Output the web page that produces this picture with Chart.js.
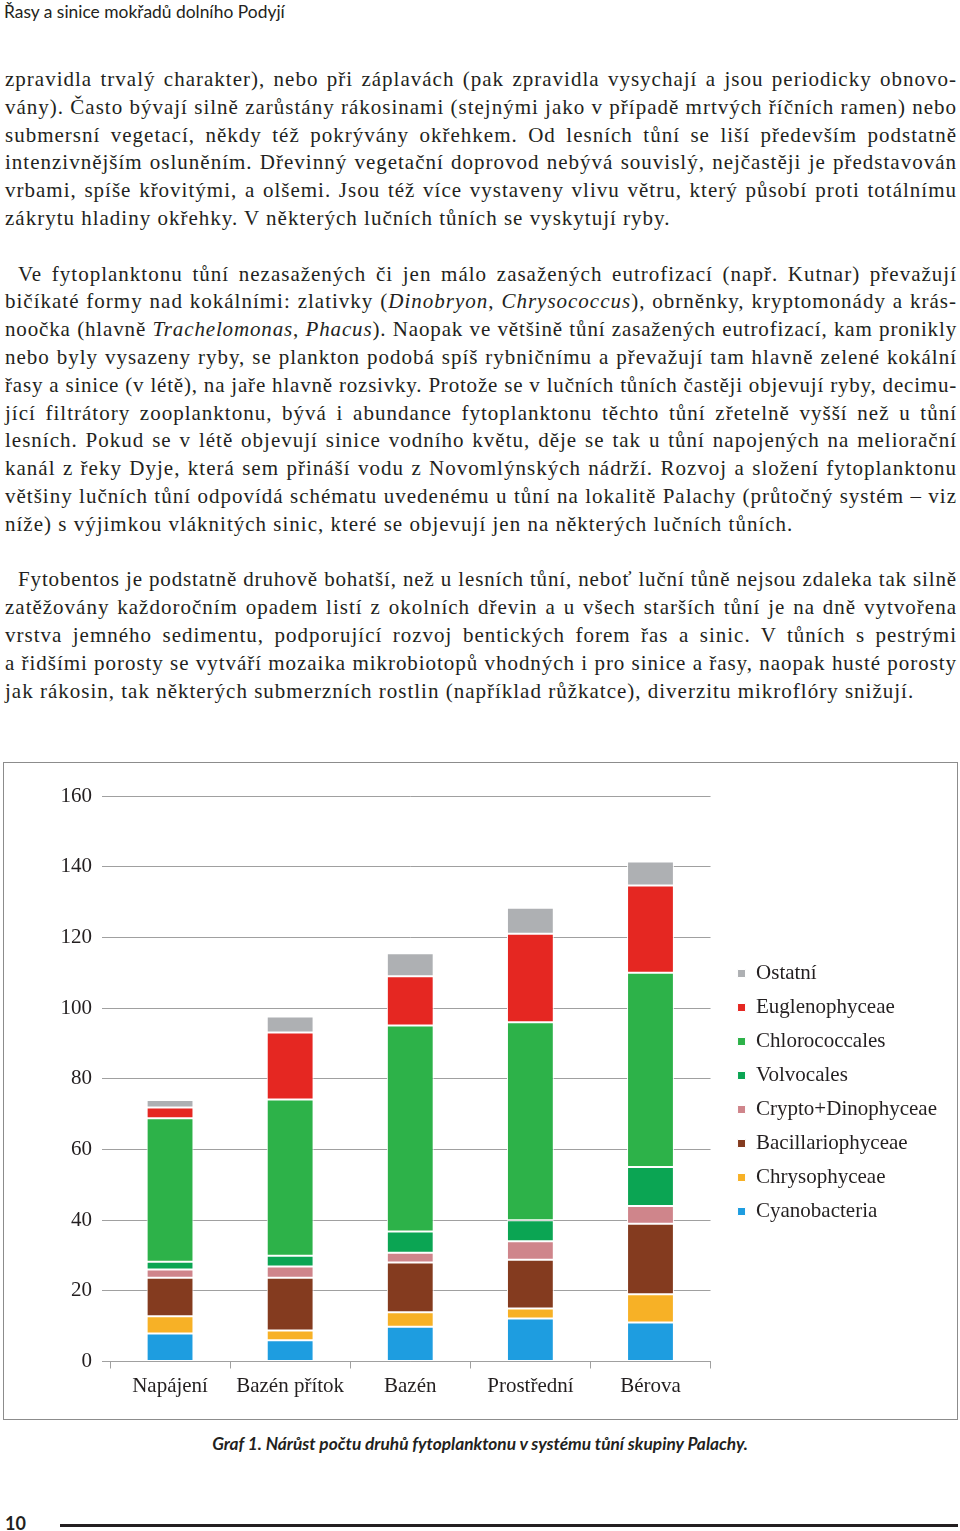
<!DOCTYPE html>
<html lang="cs">
<head>
<meta charset="utf-8">
<title>Graf 1</title>
<script src="https://cdn.jsdelivr.net/npm/chart.js@4.4.1/dist/chart.umd.min.js"></script>
<style>
    html, body { margin: 0; padding: 0; background: #fff; }
    body { width: 960px; height: 1531px; position: relative; overflow: hidden; color: #231f20; }
    .header { position: absolute; left: 4px; top: 1px; font-family: Lato, sans-serif; font-size: 17.4px; }
    .text { position: absolute; left: 5px; top: 66px; width: 952px; font-family: "Liberation Serif", serif; font-size: 21px; line-height: 27.8px; letter-spacing: 1px; }
    .text div { height: 27.8px; white-space: nowrap; }
    .j { text-align: justify; text-align-last: justify; }
    .ind { padding-left: 13px; }
    .chart-box { position: absolute; left: 3px; top: 762px; width: 955px; height: 658px; box-sizing: border-box; border: 1.5px solid #8c8c8c; }
    .chart-box .inner { position: relative; width: 100%; height: 100%; }
    .caption { position: absolute; left: 0; top: 1433px; width: 960px; text-align: center; font-family: Lato, sans-serif; font-style: italic; font-weight: bold; font-size: 17.3px; }
    .pagenum { position: absolute; left: 5px; top: 1512px; font-family: Lato, sans-serif; font-weight: bold; font-size: 18px; }
    .rule { position: absolute; left: 60px; top: 1524px; width: 898px; height: 3px; background: #231f20; }
</style>
</head>
<body>
<div class="header">Řasy a sinice mokřadů dolního Podyjí</div>

<div class="text">
    <div class="j">zpravidla trvalý charakter), nebo při záplavách (pak zpravidla vysychají a jsou periodicky obnovo-</div>
    <div class="j">vány). Často bývají silně zarůstány rákosinami (stejnými jako v případě mrtvých říčních ramen) nebo</div>
    <div class="j">submersní vegetací, někdy též pokrývány okřehkem. Od lesních tůní se liší především podstatně</div>
    <div class="j">intenzivnějším osluněním. Dřevinný vegetační doprovod nebývá souvislý, nejčastěji je představován</div>
    <div class="j">vrbami, spíše křovitými, a olšemi. Jsou též více vystaveny vlivu větru, který působí proti totálnímu</div>
    <div>zákrytu hladiny okřehky. V některých lučních tůních se vyskytují ryby.</div>
    <div></div>
    <div class="j ind">Ve fytoplanktonu tůní nezasažených či jen málo zasažených eutrofizací (např. Kutnar) převažují</div>
    <div class="j">bičíkaté formy nad kokálními: zlativky (<i>Dinobryon</i>, <i>Chrysococcus</i>), obrněnky, kryptomonády a krás-</div>
    <div class="j">noočka (hlavně <i>Trachelomonas</i>, <i>Phacus</i>). Naopak ve většině tůní zasažených eutrofizací, kam pronikly</div>
    <div class="j">nebo byly vysazeny ryby, se plankton podobá spíš rybničnímu a převažují tam hlavně zelené kokální</div>
    <div class="j">řasy a sinice (v létě), na jaře hlavně rozsivky. Protože se v lučních tůních častěji objevují ryby, decimu-</div>
    <div class="j">jící filtrátory zooplanktonu, bývá i abundance fytoplanktonu těchto tůní zřetelně vyšší než u tůní</div>
    <div class="j">lesních. Pokud se v létě objevují sinice vodního květu, děje se tak u tůní napojených na meliorační</div>
    <div class="j">kanál z řeky Dyje, která sem přináší vodu z Novomlýnských nádrží. Rozvoj a složení fytoplanktonu</div>
    <div class="j">většiny lučních tůní odpovídá schématu uvedenému u tůní na lokalitě Palachy (průtočný systém – viz</div>
    <div>níže) s výjimkou vláknitých sinic, které se objevují jen na některých lučních tůních.</div>
    <div></div>
    <div class="j ind">Fytobentos je podstatně druhově bohatší, než u lesních tůní, neboť luční tůně nejsou zdaleka tak silně</div>
    <div class="j">zatěžovány každoročním opadem listí z okolních dřevin a u všech starších tůní je na dně vytvořena</div>
    <div class="j">vrstva jemného sedimentu, podporující rozvoj bentických forem řas a sinic. V tůních s pestrými</div>
    <div class="j">a řidšími porosty se vytváří mozaika mikrobiotopů vhodných i pro sinice a řasy, naopak husté porosty</div>
    <div>jak rákosin, tak některých submerzních rostlin (například růžkatce), diverzitu mikroflóry snižují.</div>
</div>

<div class="chart-box">
    <div class="inner"><canvas id="grafChart"></canvas></div>
</div>

<div class="caption">Graf 1. Nárůst počtu druhů fytoplanktonu v systému tůní skupiny Palachy.</div>
<div class="pagenum">10</div>
<div class="rule"></div>

<script>
// Řádky, které se nevejdou, trochu zhustit (prostrkání jako v sazbě)
document.querySelectorAll('.text .j').forEach(function(line) {
    let ls = 1;
    while (line.scrollWidth > line.clientWidth && ls > 0) {
        ls -= 0.05;
        line.style.letterSpacing = ls + 'px';
    }
});

// Data (počet druhů)
const lokality = ['Napájení', 'Bazén přítok', 'Bazén', 'Prostřední', 'Bérova'];
const cyanobacteria = [7.9, 6.0, 9.8, 12.2, 11.0];
const chrysophyceae = [4.9, 2.8, 4.1, 2.8, 8.0];
const bacillariophyceae = [10.9, 14.9, 14.1, 13.8, 20.0];
const cryptoDinophyceae = [2.3, 3.2, 2.8, 5.2, 5.0];
const volvocales = [2.2, 3.0, 6.0, 6.0, 11.0];
const chlorococcales = [40.6, 44.2, 58.3, 56.0, 55.0];
const euglenophyceae = [3.1, 19.0, 13.9, 25.0, 24.7];
const ostatni = [2.1, 4.5, 6.5, 7.4, 6.8];
const yTicks = [0, 20, 40, 60, 80, 100, 120, 140, 160];

const serif = "'Liberation Serif', 'Times New Roman', serif";
const gridColor = '#a0a0a0';

Chart.defaults.font.family = serif;
Chart.defaults.color = '#231f20';
Chart.defaults.animation = false;

function serie(label, data, color) {
    return {
        label: label,
        data: data,
        backgroundColor: color,
        borderColor: '#ffffff',
        borderWidth: 1,
        borderSkipped: false,
        categoryPercentage: 1,
        barPercentage: 0.39
    };
}

const ctx = document.getElementById('grafChart').getContext('2d');
const grafChart = new Chart(ctx, {
    type: 'bar',
    data: {
        labels: lokality,
        datasets: [
            serie('Cyanobacteria', cyanobacteria, '#1e9de0'),
            serie('Chrysophyceae', chrysophyceae, '#f7b126'),
            serie('Bacillariophyceae', bacillariophyceae, '#843b1f'),
            serie('Crypto+Dinophyceae', cryptoDinophyceae, '#cf858b'),
            serie('Volvocales', volvocales, '#0ba553'),
            serie('Chlorococcales', chlorococcales, '#2db249'),
            serie('Euglenophyceae', euglenophyceae, '#e52722'),
            serie('Ostatní', ostatni, '#aeb0b3')
        ]
    },
    options: {
        responsive: true,
        maintainAspectRatio: false,
        layout: { padding: { top: 33, bottom: 17.5, left: 0, right: 10 } },
        plugins: {
            legend: {
                position: 'right',
                align: 'start',
                reverse: true,
                maxWidth: 320,
                // prázdný titulek posune položky legendy dolů
                title: { display: true, text: ' ', font: { size: 10 }, padding: { top: 142, bottom: 0 } },
                labels: {
                    boxWidth: 8,
                    boxHeight: 8,
                    padding: 13,
                    font: { family: serif, size: 21 },
                    color: '#231f20'
                }
            },
            tooltip: { enabled: false }
        },
        scales: {
            x: {
                stacked: true,
                afterFit: function(scale) { scale.height = 40; },
                grid: { display: true, drawOnChartArea: false, drawTicks: true, tickLength: 7, color: gridColor },
                border: { display: true, color: gridColor, width: 1 },
                ticks: { padding: 5, font: { size: 21 } }
            },
            y: {
                stacked: true,
                min: 0,
                max: 160,
                afterBuildTicks: function(scale) { scale.ticks = yTicks.map(v => ({ value: v })); },
                afterFit: function(scale) { scale.width = 106; },
                grid: { color: gridColor, tickLength: 8 },
                border: { display: false },
                ticks: { padding: 10, font: { size: 21 } }
            },
            // prázdná osa jen kvůli mezeře mezi grafem a legendou
            mezera: {
                type: 'linear',
                position: 'right',
                afterFit: function(scale) { scale.width = 14; },
                grid: { display: false },
                border: { display: false },
                ticks: { display: false }
            }
        }
    }
});
</script>
</body>
</html>
